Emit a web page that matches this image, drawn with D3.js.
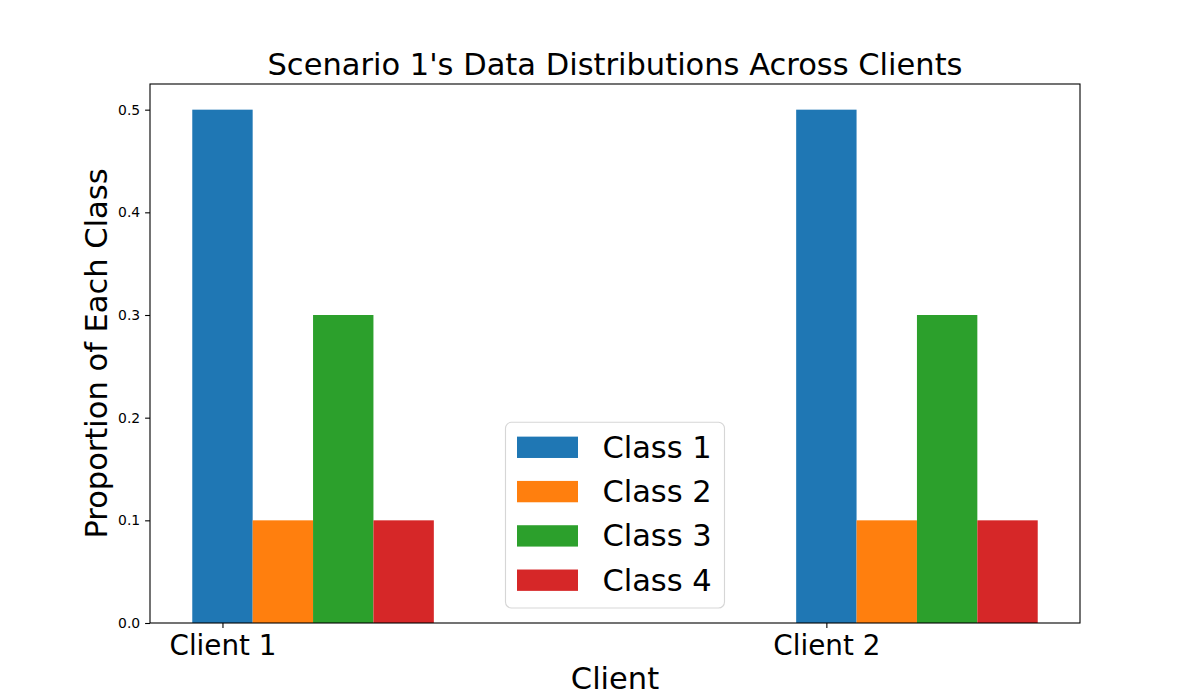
<!DOCTYPE html>
<html>
<head>
<meta charset="utf-8">
<script src="https://cdn.jsdelivr.net/npm/d3@7/dist/d3.min.js"></script>
<style>
  body { margin: 0; background: #fff; }
  text { font-family: "DejaVu Sans", sans-serif; fill: #000; }
</style>
</head>
<body>
<svg id="chart" width="1200" height="700"></svg>
<script>
// chart data
const clients = ['Client 1', 'Client 2'];
const classes = ['Class 1', 'Class 2', 'Class 3', 'Class 4'];
const client1Values = [0.5, 0.1, 0.3, 0.1];
const client2Values = [0.5, 0.1, 0.3, 0.1];
const yTicks = [0.0, 0.1, 0.2, 0.3, 0.4, 0.5];
const colors = ['#1f77b4', '#ff7f0e', '#2ca02c', '#d62728'];

const values = [client1Values, client2Values];
const barWidth = 0.1;

const margin = { left: 150, right: 120, top: 84, bottom: 77 };
const width = 1200, height = 700;

const svg = d3.select('#chart');

// x in data units: client i at i, class j offset j*barWidth
const xMin = -barWidth / 2;
const xMax = (clients.length - 1) + (classes.length - 1) * barWidth + barWidth / 2;
const pad = (xMax - xMin) * 0.05;
const x = d3.scaleLinear()
    .domain([xMin - pad, xMax + pad])
    .range([margin.left, width - margin.right]);

const yMax = d3.max(values, v => d3.max(v));
const y = d3.scaleLinear()
    .domain([0, yMax * 1.05])
    .range([height - margin.bottom, margin.top]);

// bars
const bars = [];
values.forEach((v, i) => {
    v.forEach((val, j) => bars.push({ client: i, cls: j, value: val }));
});

svg.append('g')
    .selectAll('rect')
    .data(bars)
    .enter().append('rect')
    .attr('x', d => x(d.client + d.cls * barWidth - barWidth / 2))
    .attr('width', d => x(barWidth) - x(0))
    .attr('y', d => y(d.value))
    .attr('height', d => y(0) - y(d.value))
    .attr('fill', d => colors[d.cls]);

// axes
const xAxis = svg.append('g')
    .attr('transform', `translate(0,${y(0)})`)
    .call(d3.axisBottom(x)
        .tickValues(clients.map((c, i) => i))
        .tickFormat(i => clients[i])
        .tickSizeOuter(0)
        .tickSize(4.9)
        .tickPadding(7.4));
xAxis.select('.domain').remove();
xAxis.selectAll('line').attr('stroke', '#000').attr('stroke-width', 1.1);
xAxis.selectAll('text')
    .style('font-family', '"DejaVu Sans", sans-serif')
    .style('font-size', '27.8px')
    .attr('fill', '#000');

const yAxis = svg.append('g')
    .attr('transform', `translate(${margin.left},0)`)
    .call(d3.axisLeft(y)
        .tickValues(yTicks)
        .tickFormat(d3.format('.1f'))
        .tickSizeOuter(0)
        .tickSize(4.9)
        .tickPadding(4.9));
yAxis.select('.domain').remove();
yAxis.selectAll('line').attr('stroke', '#000').attr('stroke-width', 1.1);
yAxis.selectAll('text')
    .style('font-family', '"DejaVu Sans", sans-serif')
    .style('font-size', '13.9px')
    .attr('fill', '#000');

// spines
svg.append('rect')
    .attr('x', margin.left)
    .attr('y', margin.top)
    .attr('width', width - margin.left - margin.right)
    .attr('height', height - margin.top - margin.bottom)
    .attr('fill', 'none')
    .attr('stroke', '#000')
    .attr('stroke-width', 1.1);

// title and labels
const cx = (margin.left + width - margin.right) / 2;
svg.append('text')
    .attr('x', cx)
    .attr('y', 75)
    .attr('text-anchor', 'middle')
    .style('font-size', '30.5px')
    .text("Scenario 1's Data Distributions Across Clients");

svg.append('text')
    .attr('x', cx)
    .attr('y', 688.5)
    .attr('text-anchor', 'middle')
    .style('font-size', '30.5px')
    .text('Client');

svg.append('text')
    .attr('transform', `translate(107,${(margin.top + height - margin.bottom) / 2}) rotate(-90)`)
    .attr('text-anchor', 'middle')
    .style('font-size', '30.5px')
    .text('Proportion of Each Class');

// legend (lower center)
const fs = 30.5;
const rowH = 44.3;
const legW = 219, legH = rowH * classes.length + 8.5;
const legX = cx - legW / 2;
const legY = y(0) - 15 - legH;

const legend = svg.append('g').attr('transform', `translate(${legX},${legY})`);
legend.append('rect')
    .attr('width', legW)
    .attr('height', legH)
    .attr('rx', 6)
    .attr('fill', 'rgba(255,255,255,0.8)')
    .attr('stroke', 'rgba(204,204,204,0.8)')
    .attr('stroke-width', 1.1);

const item = legend.selectAll('g.item')
    .data(classes)
    .enter().append('g')
    .attr('class', 'item')
    .attr('transform', (d, i) => `translate(0,${25 + i * rowH})`);

item.append('rect')
    .attr('x', 11.5)
    .attr('y', -fs * 0.35)
    .attr('width', fs * 2)
    .attr('height', fs * 0.7)
    .attr('fill', (d, i) => colors[i]);

item.append('text')
    .attr('x', 11.5 + fs * 2 + fs * 0.8)
    .attr('y', 10.5)
    .style('font-size', fs + 'px')
    .text(d => d);
</script>
</body>
</html>
